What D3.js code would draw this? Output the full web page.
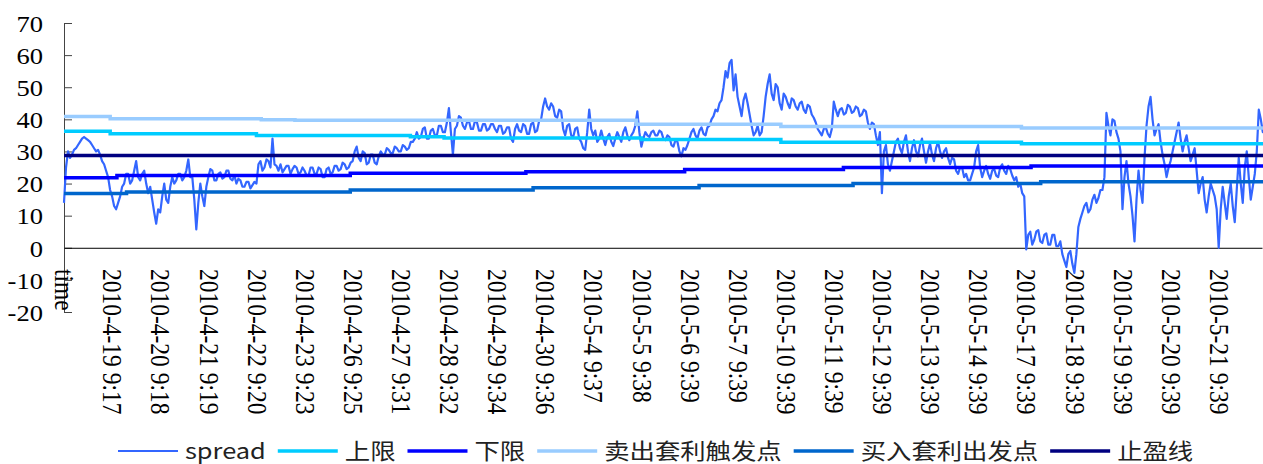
<!DOCTYPE html>
<html>
<head>
<meta charset="utf-8">
<script src="https://cdn.jsdelivr.net/npm/d3@7"></script>
<style>
  body { margin: 0; background: #fff; }
  svg { display: block; }
  .serif text { font-family: "Liberation Serif", "Times New Roman", serif; }
</style>
</head>
<body>
<div id="chart-area"></div>
<script>
// category labels, one every 24 points ("time" is the header row that ended up in the data)
const labels = ["time", "2010-4-19 9:17", "2010-4-20 9:18", "2010-4-21 9:19", "2010-4-22 9:20",
  "2010-4-23 9:23", "2010-4-26 9:25", "2010-4-27 9:31", "2010-4-28 9:32", "2010-4-29 9:34",
  "2010-4-30 9:36", "2010-5-4 9:37", "2010-5-5 9:38", "2010-5-6 9:39", "2010-5-7 9:39",
  "2010-5-10 9:39", "2010-5-11 9:39", "2010-5-12 9:39", "2010-5-13 9:39", "2010-5-14 9:39",
  "2010-5-17 9:39", "2010-5-18 9:39", "2010-5-19 9:39", "2010-5-20 9:39", "2010-5-21 9:39"]

const yTicks = [-20, -10, 0, 10, 20, 30, 40, 50, 60, 70]

// spread, 24 samples per label interval (one row per interval)
const spread = [
  14, 25, 30, 28, 29, 30.5, 31, 32, 33, 34, 34.5, 34, 33.5, 33, 32, 31, 30, 30.5, 29, 27, 26, 24, 22, 18,
  16, 13, 12, 14, 16, 19, 20, 23, 23, 20, 21, 24, 27, 22, 21, 23, 24, 20, 17, 19, 15, 11, 7.5, 12,
  11, 16, 20, 15, 14, 19, 22, 20, 21, 23, 23, 21, 22, 24, 27.5, 22, 22, 15, 5.7, 14, 20, 16, 13, 19,
  22, 24.5, 24, 21, 21, 23, 23.5, 21.5, 22, 24, 24, 21.5, 21, 22.5, 20, 21.5, 21, 19, 19, 20.5, 20.5, 18.5, 19.5, 20.5,
  20, 26, 27, 24, 25, 27.5, 27, 25, 34, 26, 25.5, 24, 26, 23.5, 24.5, 25.5, 25.5, 23, 24.5, 25.5, 25, 23, 23.5, 25,
  24, 22.5, 22.5, 25, 25, 23, 23, 25, 24.5, 22, 22, 24.5, 25, 23, 23.5, 25.5, 25.5, 24, 24.5, 26.5, 26, 24.5, 25, 26.5,
  27, 30, 31.5, 28, 27, 30, 29.5, 26, 26.5, 29, 29, 26.5, 26, 28.5, 30, 29, 29, 31, 30.5, 29.5, 29.5, 31.5, 31, 30,
  30, 32, 31.5, 30.5, 31, 33, 33, 34, 36, 34, 34.5, 37, 37.5, 34, 34, 36.5, 37, 35, 35, 38, 38, 36, 36, 39,
  43.5, 36, 29, 37, 38, 41, 40.5, 38, 37, 39, 39.5, 37, 37, 39.5, 39, 36.5, 36.5, 38.5, 38.5, 36.5, 37, 38.5, 38.5, 37,
  36, 38, 38, 35.5, 36, 37.5, 37.5, 34, 33, 37, 38.5, 36.5, 36, 38.5, 38, 35.5, 35.5, 38.5, 39, 36, 36.5, 39.5, 40, 44,
  46.5, 44, 43, 45, 44, 41, 40.5, 43, 42.5, 37, 35, 38, 38.5, 35, 34.5, 37, 37.5, 34, 33, 31, 30.5, 36, 43, 37,
  35, 36.5, 33, 34, 36.5, 34, 32, 34.5, 35.5, 33, 31.7, 34, 36, 34.5, 33, 36, 37.5, 35, 33.5, 35, 36, 38, 42.5, 36,
  31.5, 34, 36, 35, 34.5, 36, 36.5, 35, 35, 36.5, 36, 34, 33.5, 35, 34.5, 32, 31.5, 33.5, 33, 30, 28.5, 31, 30.5, 32,
  34, 36, 37, 35, 34, 36.5, 37.5, 35.5, 35, 37.5, 38, 40, 41, 43, 42.5, 45, 46, 50, 55, 53, 57.5, 58.5, 49, 54,
  47, 44, 41, 46, 48, 45, 41.5, 38, 35, 36, 38, 35, 36, 41, 47, 51, 54, 48, 46, 51, 50, 45, 43, 48,
  47, 45, 43.5, 46.5, 46, 44, 43, 45, 45.5, 43, 42, 44.5, 44, 41.5, 40.5, 39, 37, 36, 35, 37, 37.5, 35.5, 34.5, 37,
  45.5, 43, 41, 43, 43.5, 41.5, 42, 44.5, 44, 42, 42.5, 44, 43.5, 41, 41.5, 43, 42.5, 39, 37, 39, 38.5, 35, 32, 36,
  17, 30, 32, 26, 24, 27, 30, 33, 34, 31, 29.5, 33, 35, 30, 27, 31, 33.5, 30, 28.5, 32, 34, 30, 26.5, 30,
  32.5, 29, 27, 31, 33, 30, 28, 30, 31, 28, 26, 28, 27.5, 24, 23, 25, 25, 22, 23, 21, 21, 23, 25, 30,
  32, 25, 22, 24, 25.5, 23, 21.5, 24, 24.5, 22.5, 22, 25, 26, 24, 23, 25.5, 24.5, 22.5, 21, 22, 19, 20, 17, 16,
  -0.5, 4, 5, 1, 2.5, 5, 5.5, 2, 1.5, 4, 4.5, 1, 1, 4, 4, 0.5, 0.5, 2, -2, -4, -6, -2, -1, -5,
  -7.8, -2, 6.5, 9, 11, 13, 14, 11, 12, 15, 16.5, 14, 15.5, 18, 18, 22, 42, 38, 35, 40, 39.5, 36, 34, 30,
  12, 22, 27, 20, 16, 10, 2, 15, 24, 18, 14, 28, 38, 44, 47, 40, 35, 37, 38.5, 33, 29, 26, 22, 25,
  27, 30, 33, 36, 39, 34, 30, 33, 35, 31, 27, 29, 31, 24, 17, 20, 22, 15, 11, 16, 20, 18, 16, 12,
  0, 12, 19, 14, 9, 16, 20, 13, 8, 18, 28, 20, 14, 25, 30, 22, 15, 19, 23, 30, 43, 40, 36, 38
]
const perLabel = 24

// threshold lines as steps: [label position, value]
const upperLimit = [[0, 36.3], [0.96, 35.5], [4.0, 35.0], [7.2, 34.6], [7.9, 34.2], [12.0, 33.7], [14.9, 32.9], [19.9, 32.4]]
const lowerLimit = [[0, 21.8], [1.1, 22.5], [5.95, 23.2], [9.6, 23.7], [12.9, 24.4], [16.2, 25.0], [20.1, 25.5]]
const sellTrigger = [[0, 40.9], [0.96, 40.2], [4.1, 39.9], [4.8, 39.7], [11.9, 38.5], [14.9, 37.8], [19.9, 37.3]]
const buyTrigger = [[0, 16.9], [1.3, 17.4], [5.95, 18.0], [9.75, 18.7], [13.2, 19.4], [16.4, 20.0], [20.3, 20.6]]
const stopProfit = [[0, 28.7]]

const seriesNames = ["spread", "上限", "下限", "卖出套利触发点", "买入套利出发点", "止盈线"]
const seriesColors = ["#3366ff", "#00ccff", "#0000ff", "#99ccff", "#0066cc", "#000080"]

const W = 1263, H = 464
const margin = { left: 64, right: 1262, top: 23, bottom: 312 }
const xEnd = 24.9
const stretch = 1.13      // the picture was widened a little, text looks squat
const legendStretch = 1.18

const svg = d3.select("#chart-area").append("svg")
  .attr("width", W).attr("height", H)

const x = d3.scaleLinear().domain([0, xEnd]).range([margin.left, margin.right])
const y = d3.scaleLinear().domain([-20, 70]).range([margin.bottom, margin.top])

// y axis, ticks pointing inward
const yAxis = svg.append("g")
  .attr("class", "serif")
  .attr("transform", `translate(${margin.left},0)`)
  .call(d3.axisLeft(y).tickValues(yTicks).tickSizeInner(-8).tickSizeOuter(0))
yAxis.attr("font-family", null).attr("font-size", null)
yAxis.select(".domain").attr("stroke", "#444")
yAxis.selectAll(".tick line").attr("stroke", "#444")
yAxis.selectAll("text")
  .attr("x", 0).attr("dy", "0.35em")
  .attr("text-anchor", "end")
  .attr("transform", `translate(-21,0) scale(${stretch},1)`)
  .style("font-size", "23.5px")
  .attr("fill", "#000")
  .text(d => d < 0 ? "-" + Math.abs(d) : d)

// x axis at zero, labels hang low and rotated
const labelTop = 269
const xAxis = svg.append("g")
  .attr("class", "serif")
  .attr("transform", `translate(0,${y(0)})`)
  .call(d3.axisBottom(x).tickValues(d3.range(labels.length)).tickSize(0).tickFormat(i => labels[i]))
xAxis.attr("font-family", null).attr("font-size", null)
xAxis.select(".domain").attr("stroke", "#000")
xAxis.selectAll("text")
  .attr("x", 0).attr("y", 0).attr("dy", "0.35em")
  .attr("text-anchor", "start")
  .attr("transform", `translate(0,${labelTop - y(0)}) scale(${stretch},1) rotate(90)`)
  .style("font-size", "23.5px")
  .attr("fill", "#000")

// series
const line = d3.line().x(d => x(d[0])).y(d => y(d[1]))
const stepLine = d3.line().x(d => x(d[0])).y(d => y(d[1])).curve(d3.curveStepAfter)

const spreadPts = spread.map((v, k) => [k / perLabel, v])
const lastU = (spread.length - 1) / perLabel

function stepPts(steps) {
  const pts = steps.map(s => [s[0], s[1]])
  pts.push([lastU, steps[steps.length - 1][1]])
  return pts
}

svg.append("path")
  .attr("d", line(spreadPts))
  .attr("fill", "none")
  .attr("stroke", seriesColors[0])
  .attr("stroke-width", 2.2)
  .attr("stroke-linejoin", "round")

const thresholds = [upperLimit, lowerLimit, sellTrigger, buyTrigger, stopProfit]
thresholds.forEach((steps, i) => {
  svg.append("path")
    .attr("d", stepLine(stepPts(steps)))
    .attr("fill", "none")
    .attr("stroke", seriesColors[i + 1])
    .attr("stroke-width", 3.5)
})

// legend
const legend = svg.append("g").attr("transform", "translate(0,451)")
let lx = 118
seriesNames.forEach((name, i) => {
  legend.append("line")
    .attr("x1", lx).attr("x2", lx + 60)
    .attr("y1", 0).attr("y2", 0)
    .attr("stroke", seriesColors[i])
    .attr("stroke-width", i === 0 ? 2 : 3.5)
  const t = legend.append("text")
    .attr("transform", `translate(${lx + 67},0) scale(${legendStretch},1)`)
    .attr("dy", "0.35em")
    .style("font-family", "'Noto Sans CJK SC', sans-serif")
    .style("font-size", "21.5px")
    .attr("fill", "#222")
    .text(name)
  const w = t.node().getComputedTextLength() * legendStretch
  lx += 67 + w + 12
})
</script>
</body>
</html>
